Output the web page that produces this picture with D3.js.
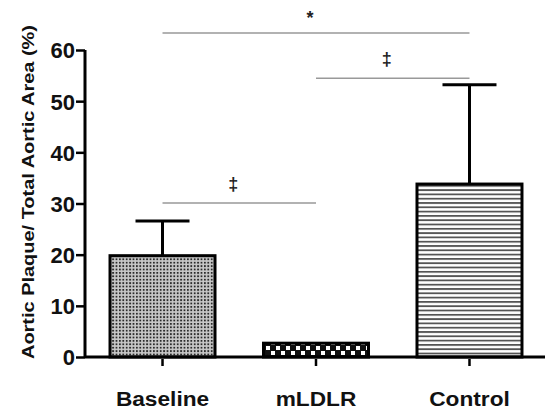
<!DOCTYPE html>
<html>
<head>
<meta charset="utf-8">
<script src="https://cdn.jsdelivr.net/npm/d3@7"></script>
<style>
  body { margin: 0; background: #fff; }
  svg { display: block; font-family: "Liberation Sans", Arial, sans-serif; }
</style>
</head>
<body>
<div id="chart"></div>
<script>
const groups = ["Baseline", "mLDLR", "Control"];
const means = [19.8, 2.7, 33.8];
const errors = [6.8, 0, 19.4];
const yTicks = [0, 10, 20, 30, 40, 50, 60];
const brackets = [
  {from: "Baseline", to: "Control", level: 63.3, mark: "*"},
  {from: "mLDLR", to: "Control", level: 54.5, mark: "‡"},
  {from: "Baseline", to: "mLDLR", level: 30.1, mark: "‡"}
];

const width = 545, height = 414;
const font = "Liberation Sans, Arial, sans-serif";
const svg = d3.select("#chart").append("svg")
  .attr("width", width).attr("height", height);

const defs = svg.append("defs");

// fine dotted fill
const p1 = defs.append("pattern").attr("id", "dots")
  .attr("patternUnits", "userSpaceOnUse").attr("width", 3.4).attr("height", 3.4);
p1.append("rect").attr("width", 3.4).attr("height", 3.4).attr("fill", "#c8c8c8");
p1.append("rect").attr("width", 1.8).attr("height", 1.8).attr("fill", "#2a2a2a");

// checker fill
const p2 = defs.append("pattern").attr("id", "checks")
  .attr("patternUnits", "userSpaceOnUse").attr("width", 10).attr("height", 10);
p2.append("rect").attr("width", 10).attr("height", 10).attr("fill", "#111");
p2.append("rect").attr("x", 1).attr("y", 1).attr("width", 4).attr("height", 4).attr("fill", "#fff");
p2.append("rect").attr("x", 6).attr("y", 6).attr("width", 4).attr("height", 4).attr("fill", "#fff");

// horizontal stripes
const p3 = defs.append("pattern").attr("id", "stripes")
  .attr("patternUnits", "userSpaceOnUse").attr("width", 8).attr("height", 4.3);
p3.append("rect").attr("width", 8).attr("height", 4.3).attr("fill", "#fff");
p3.append("rect").attr("y", 0).attr("width", 8).attr("height", 1.8).attr("fill", "#555");

const fills = ["url(#dots)", "url(#checks)", "url(#stripes)"];

const y = d3.scaleLinear().domain([0, 60]).range([357, 50]);
const x = d3.scaleBand().domain(groups).range([85, 547])
  .paddingInner(0.316).paddingOuter(0.163);

// bars
svg.append("g").selectAll("rect")
  .data(groups)
  .join("rect")
    .attr("x", d => x(d))
    .attr("y", (d, i) => y(means[i]))
    .attr("width", x.bandwidth())
    .attr("height", (d, i) => y(0) - y(means[i]))
    .attr("fill", (d, i) => fills[i])
    .attr("stroke", "#000")
    .attr("stroke-width", 3);

// error bars
const eb = svg.append("g").attr("stroke", "#000").attr("stroke-width", 3);
groups.forEach((g, i) => {
  if (!errors[i]) return;
  const cx = x(g) + x.bandwidth() / 2;
  eb.append("line").attr("x1", cx).attr("x2", cx)
    .attr("y1", y(means[i])).attr("y2", y(means[i] + errors[i]));
  eb.append("line").attr("x1", cx - 27).attr("x2", cx + 27)
    .attr("y1", y(means[i] + errors[i])).attr("y2", y(means[i] + errors[i]));
});

// y axis
const yAxis = svg.append("g")
  .attr("transform", "translate(85,0)")
  .call(d3.axisLeft(y).tickValues(yTicks).tickSize(9).tickPadding(1));
yAxis.select(".domain").attr("stroke-width", 3).attr("d", `M0,${y(60)}V${y(0)}`);
yAxis.selectAll(".tick line").attr("stroke-width", 2.5);
yAxis.selectAll("text").attr("font-size", 22).attr("font-weight", "bold")
  .attr("fill", "#111").attr("font-family", font).attr("dy", "0.36em");

// x axis
const xAxis = svg.append("g")
  .attr("transform", `translate(0,${y(0)})`)
  .call(d3.axisBottom(x).tickSize(9).tickPadding(0));
xAxis.select(".domain").attr("stroke-width", 3).attr("d", `M85,0H545`);
xAxis.selectAll(".tick line").attr("stroke-width", 2.5).attr("y1", 2);
xAxis.selectAll("text")
  .attr("y", 49).attr("dy", null)
  .attr("font-size", 21).attr("font-weight", "bold")
  .attr("fill", "#111").attr("font-family", font)
  .attr("transform", "scale(1.08,1)");

// y label
svg.append("text")
  .attr("transform", `translate(34,192) rotate(-90)`)
  .attr("text-anchor", "middle")
  .attr("font-size", 17).attr("font-weight", "bold").attr("fill", "#111")
  .attr("textLength", 334).attr("lengthAdjust", "spacingAndGlyphs")
  .text("Aortic Plaque/ Total Aortic Area (%)");

// significance brackets
const bg = svg.append("g");
brackets.forEach(b => {
  const x1 = x(b.from) + x.bandwidth() / 2;
  const x2 = x(b.to) + x.bandwidth() / 2;
  const by = y(b.level);
  bg.append("line").attr("x1", x1).attr("x2", x2).attr("y1", by).attr("y2", by)
    .attr("stroke", "#999").attr("stroke-width", 1.5);
  bg.append("text").attr("x", (x1 + x2) / 2 - 6)
    .attr("y", by - (b.mark === "*" ? 9 : 13))
    .attr("text-anchor", "middle").attr("font-size", 18).attr("font-weight", "bold")
    .attr("fill", "#222").text(b.mark);
});
</script>
</body>
</html>
